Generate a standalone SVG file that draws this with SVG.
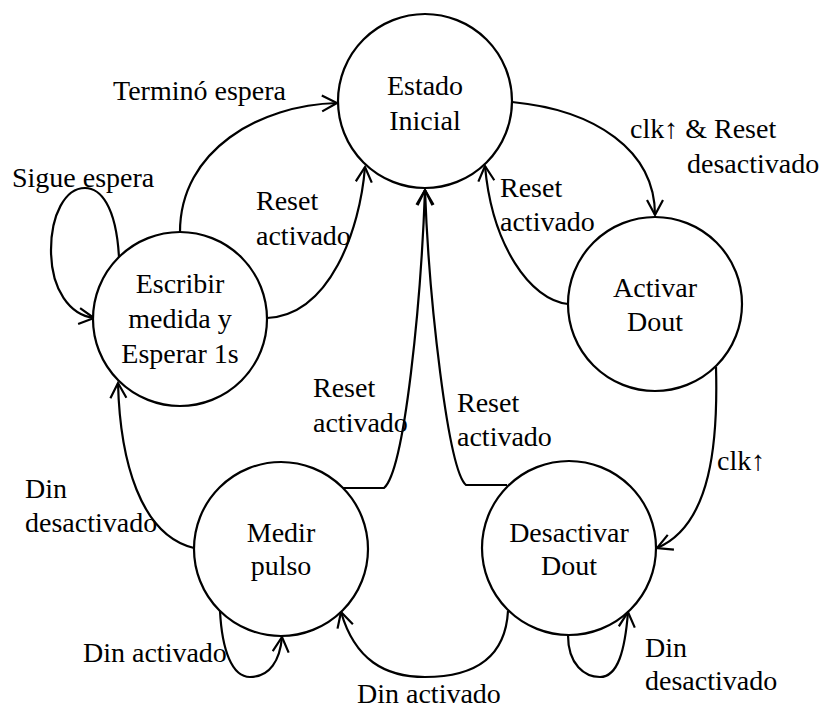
<svg xmlns="http://www.w3.org/2000/svg" width="823" height="708" viewBox="0 0 823 708" font-family="Times New Roman" font-size="28">
  <defs>
    <marker id="arrow" markerUnits="userSpaceOnUse" markerWidth="20" markerHeight="20" refX="16" refY="9" orient="auto">
      <path d="M1,1 L16,9 L1,17" fill="none" stroke="#000" stroke-width="2.2"/>
    </marker>
  </defs>

  <rect width="823" height="708" fill="#fff"/>

  <!-- transitions: shared stroke set on the group -->
  <g id="connectors" fill="none" stroke="#000" stroke-width="2.2">
    <!-- Escribir -> Estado Inicial (Terminó espera) -->
    <path marker-end="url(#arrow)" d="M180,232 C180,150 260,105 337,103"/>
    <!-- Escribir -> Estado Inicial (Reset activado) -->
    <path marker-end="url(#arrow)" d="M267,318 C330,315 360,230 365,167"/>
    <!-- Escribir self loop (Sigue espera) -->
    <path marker-end="url(#arrow)" d="M119,257 C116,205 100,188 85,188 C65,188 51,215 51,250 C51,290 70,315 94,318"/>
    <!-- Estado Inicial -> Activar Dout -->
    <path marker-end="url(#arrow)" d="M512,102 C595,110 655,150 655,215"/>
    <!-- Activar Dout -> Estado Inicial (Reset activado) -->
    <path marker-end="url(#arrow)" d="M568,304 C530,300 492,245 485,166"/>
    <!-- Activar Dout -> Desactivar Dout (clk) -->
    <path marker-end="url(#arrow)" d="M716,367 C718,440 712,525 657,548"/>
    <!-- Medir pulso -> Estado Inicial (Reset activado) -->
    <path marker-end="url(#arrow)" d="M343,488 L384,488 C405,470 421,300 425,190"/>
    <!-- Desactivar Dout -> Estado Inicial (Reset activado) -->
    <path marker-end="url(#arrow)" d="M507,485 L466,485 C448,470 429,300 425,190"/>
    <!-- Medir pulso -> Escribir (Din desactivado) -->
    <path marker-end="url(#arrow)" d="M194,548 C140,535 120,460 118,383"/>
    <!-- Medir pulso self loop (Din activado) -->
    <path marker-end="url(#arrow)" d="M220,611 C222,650 232,677 250,677 C270,677 280,660 282,637"/>
    <!-- Desactivar Dout -> Medir pulso (Din activado) -->
    <path marker-end="url(#arrow)" d="M508,611 C505,665 465,677 425,677 C385,677 355,660 341,612"/>
    <!-- Desactivar Dout self loop (Din desactivado) -->
    <path marker-end="url(#arrow)" d="M568,635 C568,665 585,677 600,677 C618,677 625,650 628,612"/>
  </g>

  <!-- transition labels -->
  <g id="labels" fill="#000">
    <text style="font-family:'Times New Roman'" x="113" y="100">Terminó espera</text>
    <text style="font-family:'Times New Roman'" x="12" y="187">Sigue espera</text>
    <text style="font-family:'Times New Roman'" x="256" y="210">Reset</text>
    <text style="font-family:'Times New Roman'" x="256" y="245">activado</text>
    <text style="font-family:'Times New Roman'" x="630" y="138">clk↑ &amp; Reset</text>
    <text style="font-family:'Times New Roman'" x="687" y="173">desactivado</text>
    <text style="font-family:'Times New Roman'" x="500" y="197">Reset</text>
    <text style="font-family:'Times New Roman'" x="500" y="231">activado</text>
    <text style="font-family:'Times New Roman'" x="313" y="397">Reset</text>
    <text style="font-family:'Times New Roman'" x="313" y="432">activado</text>
    <text style="font-family:'Times New Roman'" x="457" y="412">Reset</text>
    <text style="font-family:'Times New Roman'" x="457" y="446">activado</text>
    <text style="font-family:'Times New Roman'" x="717" y="470">clk↑</text>
    <text style="font-family:'Times New Roman'" x="25" y="498">Din</text>
    <text style="font-family:'Times New Roman'" x="25" y="532">desactivado</text>
    <text style="font-family:'Times New Roman'" x="83" y="662">Din activado</text>
    <text style="font-family:'Times New Roman'" x="357" y="703">Din activado</text>
    <text style="font-family:'Times New Roman'" x="645" y="657">Din</text>
    <text style="font-family:'Times New Roman'" x="645" y="690">desactivado</text>
  </g>

  <!-- states -->
  <g id="estado-inicial" text-anchor="middle">
    <circle cx="425" cy="101" r="87" fill="#fff" stroke="#000" stroke-width="2.2"/>
    <text style="font-family:'Times New Roman'" x="425" y="95">Estado</text>
    <text style="font-family:'Times New Roman'" x="425" y="130">Inicial</text>
  </g>
  <g id="escribir-medida" text-anchor="middle">
    <circle cx="180" cy="319" r="87" fill="#fff" stroke="#000" stroke-width="2.2"/>
    <text style="font-family:'Times New Roman'" x="180" y="293">Escribir</text>
    <text style="font-family:'Times New Roman'" x="180" y="328">medida y</text>
    <text style="font-family:'Times New Roman'" x="180" y="363">Esperar 1s</text>
  </g>
  <g id="activar-dout" text-anchor="middle">
    <circle cx="655" cy="304" r="87" fill="#fff" stroke="#000" stroke-width="2.2"/>
    <text style="font-family:'Times New Roman'" x="655" y="297">Activar</text>
    <text style="font-family:'Times New Roman'" x="655" y="331">Dout</text>
  </g>
  <g id="medir-pulso" text-anchor="middle">
    <circle cx="281" cy="549" r="87" fill="#fff" stroke="#000" stroke-width="2.2"/>
    <text style="font-family:'Times New Roman'" x="281" y="542">Medir</text>
    <text style="font-family:'Times New Roman'" x="281" y="575">pulso</text>
  </g>
  <g id="desactivar-dout" text-anchor="middle">
    <circle cx="569" cy="548" r="87" fill="#fff" stroke="#000" stroke-width="2.2"/>
    <text style="font-family:'Times New Roman'" x="569" y="542">Desactivar</text>
    <text style="font-family:'Times New Roman'" x="569" y="575">Dout</text>
  </g>
</svg>
